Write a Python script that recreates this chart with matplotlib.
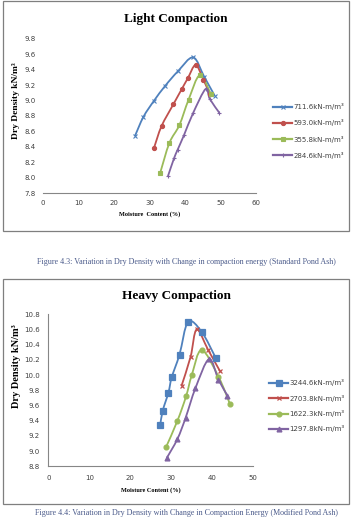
import matplotlib
matplotlib.use("Agg")
import matplotlib.pyplot as plt
from matplotlib.path import Path
from matplotlib.patches import PathPatch, Rectangle
from matplotlib.lines import Line2D
import numpy as np

# light compaction (standard pond ash)
light_labels = ["711.6kN-m/m³", "593.0kN-m/m³", "355.8kN-m/m³", "284.6kN-m/m³"]
light_mc = [
    [25.9, 28.3, 31.3, 34.4, 38.0, 42.3, 45.4, 48.4],
    [31.3, 33.4, 36.7, 39.1, 40.8, 43.0, 45.2, 47.0],
    [33.0, 35.6, 38.4, 41.0, 44.2, 47.3],
    [35.2, 36.9, 37.9, 39.7, 42.3, 45.8, 47.0, 49.7],
]
light_dd = [
    [8.54, 8.79, 9.00, 9.19, 9.38, 9.56, 9.31, 9.06],
    [8.39, 8.67, 8.95, 9.15, 9.29, 9.46, 9.27, 9.08],
    [8.06, 8.45, 8.68, 9.01, 9.33, 9.08],
    [8.02, 8.25, 8.36, 8.55, 8.84, 9.15, 9.02, 8.84],
]
light_markers = ["x", "o", "s", "+"]

# heavy compaction (modified pond ash)
heavy_labels = ["3244.6kN-m/m³", "2703.8kN-m/m³", "1622.3kN-m/m³", "1297.8kN-m/m³"]
heavy_mc = [
    [27.3, 27.9, 29.3, 30.1, 32.0, 34.1, 37.4, 40.8],
    [32.5, 34.7, 36.2, 39.0, 41.9],
    [28.7, 31.5, 33.6, 35.0, 37.4, 41.5, 44.3],
    [28.9, 31.5, 33.5, 35.9, 39.2, 41.5, 43.7],
]
heavy_dd = [
    [9.34, 9.53, 9.77, 9.97, 10.27, 10.70, 10.57, 10.23],
    [9.86, 10.24, 10.60, 10.33, 10.05],
    [9.05, 9.40, 9.72, 10.00, 10.33, 9.98, 9.62],
    [8.91, 9.16, 9.44, 9.83, 10.21, 9.94, 9.73],
]
heavy_markers = ["s", "x", "o", "^"]

colors = ["#4F81BD", "#C0504D", "#9BBB59", "#8064A2"]


def smooth(x, y, t=1 / 6):
    # excel-style smoothed line as bezier segments through the points
    p = np.column_stack([x, y])
    verts = [p[0]]
    codes = [Path.MOVETO]
    n = len(p)
    for i in range(n - 1):
        p0 = p[i - 1] if i > 0 else p[i]
        p3 = p[i + 2] if i + 2 < n else p[i + 1]
        verts += [p[i] + (p[i + 1] - p0) * t, p[i + 1] - (p3 - p[i]) * t, p[i + 1]]
        codes += [Path.CURVE4] * 3
    return Path(verts, codes)


W, H = 354, 525
fig = plt.figure(figsize=(W / 100, H / 100), dpi=100)

tick_col = "#404040"
cap_col = "#4a5a8a"


def box(x0, y0, x1, y1):
    fig.patches.append(Rectangle((x0 / W, 1 - y1 / H), (x1 - x0) / W, (y1 - y0) / H,
                                 transform=fig.transFigure, fill=False,
                                 edgecolor="#7f7f7f", lw=0.9))


def draw(ax, mcs, dds, markers, labels, msizes, lw_m):
    handles = []
    for i in range(4):
        ax.add_patch(PathPatch(smooth(mcs[i], dds[i]), fill=False,
                               edgecolor=colors[i], lw=1.3, zorder=2))
        ax.plot(mcs[i], dds[i], ls="none", marker=markers[i], color=colors[i],
                ms=msizes[i], mew=lw_m, zorder=3)
        handles.append(Line2D([], [], color=colors[i], lw=1.6, marker=markers[i],
                              ms=msizes[i], mew=lw_m))
    return handles


# ---- light compaction
box(3, 1, 349, 231)
ax1 = fig.add_axes([43 / W, 1 - 193.1 / H, 213 / W, 154.2 / H])
h1 = draw(ax1, light_mc, light_dd, light_markers, light_labels, [3, 3, 2.8, 3.5], 0.8)
ax1.set_xlim(0, 60)
ax1.set_ylim(7.8, 9.8)
ax1.set_xticks(np.arange(0, 61, 10))
ax1.set_yticks(np.arange(7.8, 9.81, 0.2))
ax1.set_yticklabels([f"{v:.1f}" for v in np.arange(7.8, 9.81, 0.2)])
for s in ["top", "right", "left"]:
    ax1.spines[s].set_visible(False)
ax1.spines["bottom"].set_color("#868686")
ax1.tick_params(length=0, labelsize=5, colors=tick_col, pad=5)
ax1.set_xlabel("Moisture  Content (%)", fontsize=4.5, fontweight="bold",
               family="Liberation Serif", labelpad=4)
ax1.set_ylabel("Dry Density kN/m³", fontsize=6.8, fontweight="bold",
               family="Liberation Serif", labelpad=2)
ax1.yaxis.set_label_coords(-0.108, 0.6)
fig.text(176 / W, 1 - 19 / H, "Light Compaction", ha="center", va="center",
         fontsize=9.5, fontweight="bold", family="Liberation Serif")
ax1.legend(handles=h1, labels=light_labels, loc="upper left",
           bbox_to_anchor=(270 / W, 1 - 100 / H), bbox_transform=fig.transFigure,
           frameon=False, fontsize=5, handlelength=2.6, handletextpad=0.3,
           labelspacing=1.3, borderpad=0, labelcolor=tick_col)

fig.text(186 / W, 1 - 262 / H,
         "Figure 4.3: Variation in Dry Density with Change in compaction energy (Standard Pond Ash)",
         ha="center", va="center", fontsize=5.8, family="Liberation Serif", color=cap_col)

# ---- heavy compaction
box(3, 279, 349, 504)
ax2 = fig.add_axes([48.3 / W, 1 - 466.3 / H, 205 / W, 152 / H])
h2 = draw(ax2, heavy_mc, heavy_dd, heavy_markers, heavy_labels, [4.2, 3.5, 3.5, 3.5], 0.9)
ax2.set_xlim(0, 50)
ax2.set_ylim(8.8, 10.8)
ax2.set_xticks(np.arange(0, 51, 10))
ax2.set_yticks(np.arange(8.8, 10.81, 0.2))
ax2.set_yticklabels([f"{v:.1f}" for v in np.arange(8.8, 10.81, 0.2)])
for s in ["top", "right"]:
    ax2.spines[s].set_visible(False)
ax2.spines["bottom"].set_color("#868686")
ax2.spines["left"].set_color("#868686")
ax2.tick_params(length=0, labelsize=5, colors=tick_col, pad=6)
ax2.set_xlabel("Moisture Content (%)", fontsize=4.5, fontweight="bold",
               family="Liberation Serif", labelpad=5)
ax2.set_ylabel("Dry Density kN/m³", fontsize=7.5, fontweight="bold",
               family="Liberation Serif", labelpad=2)
ax2.yaxis.set_label_coords(-0.135, 0.66)
fig.text(176 / W, 1 - 296 / H, "Heavy Compaction", ha="center", va="center",
         fontsize=9.5, fontweight="bold", family="Liberation Serif")
ax2.legend(handles=h2, labels=heavy_labels, loc="upper left",
           bbox_to_anchor=(266 / W, 1 - 376 / H), bbox_transform=fig.transFigure,
           frameon=False, fontsize=5, handlelength=2.6, handletextpad=0.3,
           labelspacing=1.2, borderpad=0, labelcolor=tick_col)

fig.text(186 / W, 1 - 513 / H,
         "Figure 4.4: Variation in Dry Density with Change in Compaction Energy (Modified Pond Ash)",
         ha="center", va="center", fontsize=5.8, family="Liberation Serif", color=cap_col)

fig.savefig("out.png", dpi=100)
